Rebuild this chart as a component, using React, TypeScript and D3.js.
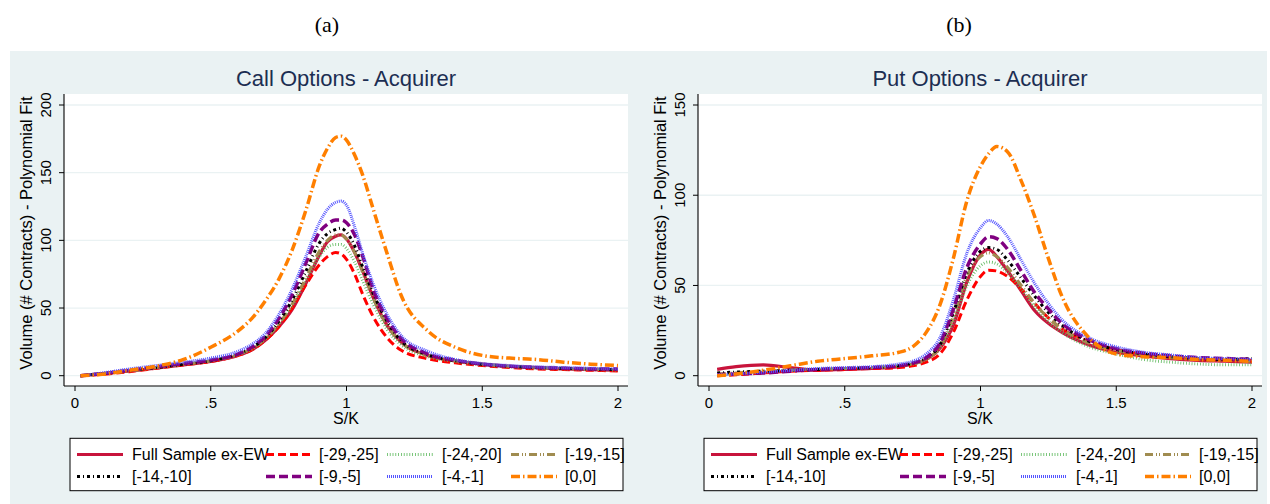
import React from 'react';
import * as d3 from 'd3';

// ---------- DATA ----------
const seriesNames = ['Full Sample ex-EW', '[-29,-25]', '[-24,-20]', '[-19,-15]', '[-14,-10]', '[-9,-5]', '[-4,-1]', '[0,0]'];

const xTicks = [0, 0.5, 1, 1.5, 2];
const xTickLabels = ['0', '.5', '1', '1.5', '2'];
const callYTicks = [0, 50, 100, 150, 200];
const putYTicks = [0, 50, 100, 150];

// Call options - acquirer
const xsCall = [0.02, 0.1, 0.2, 0.3, 0.4, 0.5, 0.6, 0.65, 0.7, 0.75, 0.8, 0.85, 0.9, 0.93, 0.96, 0.98, 1.0, 1.03, 1.06, 1.1, 1.15, 1.2, 1.3, 1.4, 1.5, 1.6, 1.7, 1.8, 1.9, 2.0];
const callFull = [0, 1.5, 3.5, 5.5, 8, 10.5, 15, 19, 26, 36, 49, 68, 89, 99, 103, 104, 101, 91, 77, 57, 37, 25, 15, 11, 8.5, 7, 6, 5, 4.5, 4];
const callM29 = [0, 1, 3, 5.5, 8, 10.5, 15, 19, 26, 36, 50, 67, 82, 88, 91, 90, 86, 75, 60, 43, 28, 19, 12.5, 9.5, 7.5, 6, 5, 4.5, 4, 3.5];
const callM24 = [0, 1.5, 3.5, 6, 8.5, 11, 15.5, 19.5, 27, 38, 52, 70, 88, 95, 97, 97, 94, 84, 70, 52, 34, 23, 14, 10.5, 8, 6.5, 5.5, 5, 4.5, 4];
const callM19 = [0, 1.5, 3.5, 6, 8.5, 11, 15.5, 20, 27, 38, 53, 72, 92, 100, 104, 104, 101, 91, 77, 57, 37, 25, 15, 11, 8.5, 7, 6, 5.5, 5, 4.5];
const callM14 = [0, 1.5, 4, 6, 8.5, 11, 16, 20.5, 28, 40, 56, 77, 98, 105, 108, 109, 106, 96, 80, 60, 40, 26, 15.5, 11, 8.5, 7, 6, 5.5, 5, 4.5];
const callM9 = [0, 1.5, 4, 6.5, 9, 11.5, 16, 21, 29, 42, 60, 83, 106, 112, 115, 115, 113, 104, 88, 63, 42, 28, 16, 11.5, 8.5, 7, 6, 5.5, 5, 5];
const callM4 = [0, 2, 5, 7.5, 10, 13, 18, 23, 31, 45, 64, 88, 113, 123, 128, 129, 126, 110, 90, 67, 45, 30, 18, 12, 9, 7.5, 6.5, 6, 5.5, 5];
const callD0 = [0, 1, 4, 7, 12, 21, 33, 42, 55, 71, 93, 122, 155, 168, 176, 177, 174, 163, 148, 122, 90, 60, 33, 21, 15, 13, 12, 10, 8.5, 7.5];

// Put options - acquirer
const xsPut = [0.03, 0.1, 0.2, 0.3, 0.4, 0.5, 0.6, 0.7, 0.75, 0.8, 0.85, 0.9, 0.95, 1.0, 1.03, 1.06, 1.1, 1.15, 1.2, 1.25, 1.3, 1.4, 1.5, 1.6, 1.7, 1.8, 1.9, 2.0];
const putFull = [3.5, 5, 6, 4.5, 3, 3.5, 4, 5, 6.5, 9, 15, 28, 52, 67, 70, 66, 58, 47, 36, 29, 24, 17, 13, 11, 9.5, 8.5, 8, 7.5];
const putM29 = [0, 0.5, 1.5, 2.5, 3, 3.5, 4, 4.5, 5.5, 7.5, 12, 24, 42, 55, 58.5, 58, 55, 48, 40, 32, 26, 19, 14.5, 12, 10.5, 9.5, 9, 8.5];
const putM24 = [0.5, 1, 2, 3, 3.5, 4, 4.5, 5.5, 6.5, 9, 15, 30, 50, 61, 63, 62, 57, 48, 38, 30, 24, 16, 12, 9, 7.5, 6.5, 6, 6];
const putM19 = [1, 1.5, 2.5, 3, 3.5, 4, 4.5, 5.5, 6.5, 9, 16, 33, 55, 66, 68, 66, 60, 50, 40, 32, 26, 18, 14, 11.5, 10, 9, 8.5, 8];
const putM14 = [1.5, 2, 2.5, 3, 3.5, 4, 4.5, 5.5, 7, 10, 17, 35, 57, 69, 71, 70, 64, 54, 44, 35, 28, 19, 14.5, 12, 10.5, 9.5, 9, 9.5];
const putM9 = [0.5, 1, 1.5, 2.5, 3.5, 4, 4.5, 5.5, 7, 10, 18, 37, 60, 73, 77, 76, 70, 58, 46, 37, 29, 20, 15, 12.5, 11, 10, 9.5, 9];
const putM4 = [0.5, 1, 2, 3, 4, 4.5, 5, 6.5, 8, 12, 21, 42, 68, 82, 86, 84, 77, 64, 51, 40, 31, 21, 16, 13, 11.5, 10, 9.5, 9];
const putD0 = [0, 1, 3, 5.5, 8, 9.5, 11, 13, 16, 24, 39, 65, 97, 116, 123, 127, 124, 108, 88, 65, 44, 21, 12, 10.5, 10, 9, 8.5, 8];

// ---------- STYLES ----------
const styles = [
  { color: '#c8143c', width: 3.2, dash: '' },
  { color: '#ff0000', width: 3, dash: '8,4' },
  { color: '#5cb85c', width: 3, dash: '0.8,2' },
  { color: '#a08c50', width: 3, dash: '8,3,1,2,1,3' },
  { color: '#000000', width: 3, dash: '3,3,1,3' },
  { color: '#800080', width: 3.5, dash: '9,4' },
  { color: '#5555ff', width: 3, dash: '1,1' },
  { color: '#ff7f00', width: 3.5, dash: '9,3,1.5,3' },
];

const FONT = '"Liberation Sans", Arial, Helvetica, sans-serif';
const BG = '#eaf2f3';

type PanelProps = { ox: number; title: string; xs: number[]; series: number[][]; yTop: number; yTicks: number[] };

function Panel({ ox, title, xs, series, yTop, yTicks }: PanelProps) {
  const x = d3.scaleLinear().domain([0, 2]).range([75 + ox, 618 + ox]);
  const y = d3.scaleLinear().domain([0, yTop]).range([375.7, 105]);
  const line = d3
    .line<number>()
    .x((_, i) => x(xs[i]))
    .y((d) => y(d))
    .curve(d3.curveMonotoneX);
  const plotL = 64 + ox;
  const plotR = 628 + ox;
  const plotT = 94;
  const plotB = 386;
  const keyX = [77, 266, 387, 511];
  const textX = [132, 319, 442, 565];
  const rowY = [454.5, 476.5];
  const rowText = [460, 482];
  return (
    <g>
      <rect x={plotL} y={plotT} width={plotR - plotL} height={plotB - plotT} fill="#ffffff" />
      {yTicks.map((t) => (
        <line key={'g' + t} x1={plotL} x2={plotR} y1={y(t)} y2={y(t)} stroke={BG} strokeWidth={1.3} />
      ))}
      {series.map((s, i) => (
        <path
          key={'s' + i}
          d={line(s) || ''}
          fill="none"
          stroke={styles[i].color}
          strokeWidth={styles[i].width}
          strokeDasharray={styles[i].dash || undefined}
        />
      ))}
      {/* axes */}
      <line x1={plotL} x2={plotL} y1={plotT} y2={plotB} stroke="#000" strokeWidth={1.1} />
      <line x1={plotL} x2={plotR} y1={plotB} y2={plotB} stroke="#000" strokeWidth={1.1} />
      {yTicks.map((t) => (
        <g key={'yt' + t}>
          <line x1={plotL - 5} x2={plotL} y1={y(t)} y2={y(t)} stroke="#000" strokeWidth={1} />
          <text
            transform={`translate(${51 + ox},${y(t)}) rotate(-90)`}
            textAnchor="middle"
            fontSize={15}
            fontFamily={FONT}
            fill="#000"
          >
            {t}
          </text>
        </g>
      ))}
      {xTicks.map((t, i) => (
        <g key={'xt' + t}>
          <line x1={x(t)} x2={x(t)} y1={plotB} y2={plotB + 5} stroke="#000" strokeWidth={1} />
          <text x={x(t)} y={408} textAnchor="middle" fontSize={15} fontFamily={FONT} fill="#000">
            {xTickLabels[i]}
          </text>
        </g>
      ))}
      <text x={346 + ox} y={424} textAnchor="middle" fontSize={16} fontFamily={FONT} fill="#000">
        S/K
      </text>
      <text
        transform={`translate(${32 + ox},233) rotate(-90)`}
        textAnchor="middle"
        fontSize={16.5}
        fontFamily={FONT}
        fill="#000"
      >
        Volume (# Contracts) - Polynomial Fit
      </text>
      <text x={346 + ox} y={86} textAnchor="middle" fontSize={22} fontFamily={FONT} fill="#1c2e52">
        {title}
      </text>
      {/* legend */}
      <rect x={70 + ox} y={438.3} width={553} height={52.4} fill="#ffffff" stroke="#000" strokeWidth={1} />
      {seriesNames.map((n, i) => {
        const r = Math.floor(i / 4);
        const c = i % 4;
        return (
          <g key={'l' + i}>
            <line
              x1={keyX[c] + ox}
              x2={keyX[c] + 46 + ox}
              y1={rowY[r]}
              y2={rowY[r]}
              stroke={styles[i].color}
              strokeWidth={styles[i].width}
              strokeDasharray={styles[i].dash || undefined}
            />
            <text x={textX[c] + ox} y={rowText[r]} fontSize={16} fontFamily={FONT} fill="#000">
              {n}
            </text>
          </g>
        );
      })}
    </g>
  );
}

export default function App() {
  const callSeries = [callFull, callM29, callM24, callM19, callM14, callM9, callM4, callD0];
  const putSeries = [putFull, putM29, putM24, putM19, putM14, putM9, putM4, putD0];
  return (
    <svg
      width={1270}
      height={504}
      style={{ position: 'absolute', left: 0, top: 0, display: 'block' }}
      xmlns="http://www.w3.org/2000/svg"
    >
      <rect x={0} y={0} width={1270} height={504} fill="#ffffff" />
      <rect x={10} y={51} width={1257} height={453} fill={BG} />
      <text x={327} y={32} textAnchor="middle" fontSize={22} fontFamily='"Liberation Serif", "DejaVu Serif", serif' fill="#000">
        (a)
      </text>
      <text x={959} y={32} textAnchor="middle" fontSize={22} fontFamily='"Liberation Serif", "DejaVu Serif", serif' fill="#000">
        (b)
      </text>
      <Panel ox={0} title="Call Options - Acquirer" xs={xsCall} series={callSeries} yTop={200} yTicks={callYTicks} />
      <Panel ox={634} title="Put Options - Acquirer" xs={xsPut} series={putSeries} yTop={150} yTicks={putYTicks} />
    </svg>
  );
}
